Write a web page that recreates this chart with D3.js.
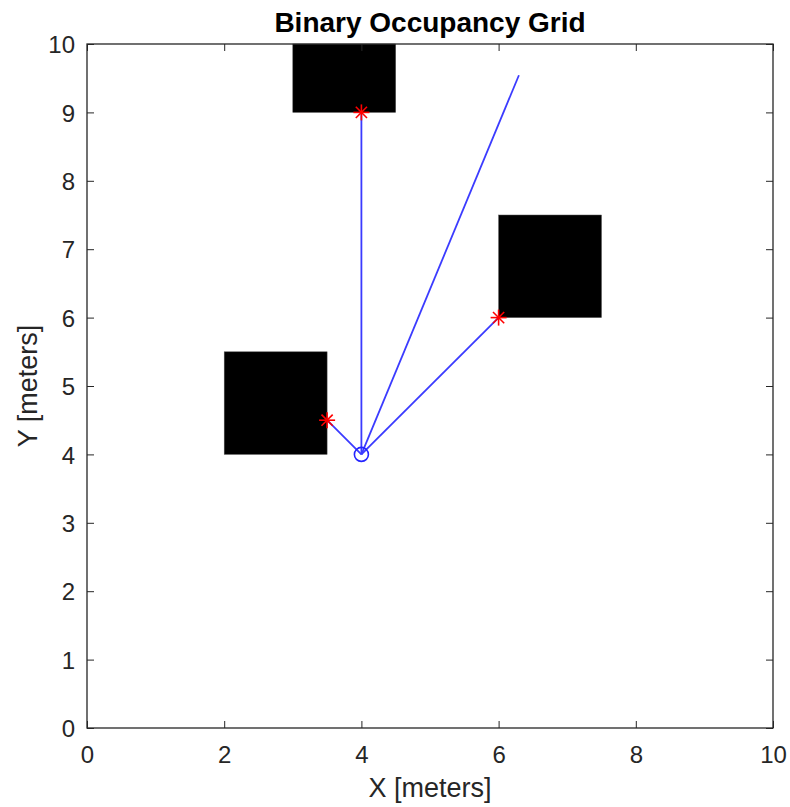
<!DOCTYPE html>
<html><head><meta charset="utf-8">
<script src="https://cdn.jsdelivr.net/npm/d3@7"></script>
<style>body{margin:0;background:#fff}text{font-family:"Liberation Sans",Arial,sans-serif}</style>
</head><body>
<script>
const obstacles = [
  {x0:3, x1:4.5, y0:9, y1:10},
  {x0:6, x1:7.5, y0:6, y1:7.5},
  {x0:2, x1:3.5, y0:4, y1:5.5}
];
const robot = [4, 4];
const rayEnds = [[3.5,4.5],[4,9],[6.296,9.543],[6,6]];
const hits = [[3.5,4.5],[4,9],[6,6]];
const xTicks = [0,2,4,6,8,10];
const yTicks = [0,1,2,3,4,5,6,7,8,9,10];

const W=790,H=807;
const svg=d3.select("body").append("svg").attr("width",W).attr("height",H);
const L=87,R=773,T=44,B=728;
const x=d3.scaleLinear().domain([0,10]).range([L,R]);
const y=d3.scaleLinear().domain([0,10]).range([B,T]);
const ax="#262626";
const FF="Liberation Sans, Arial, sans-serif";

// obstacles
svg.append("g").selectAll("rect").data(obstacles).join("rect")
  .attr("x",d=>x(d.x0)).attr("y",d=>y(d.y1))
  .attr("width",d=>x(d.x1)-x(d.x0)).attr("height",d=>y(d.y0)-y(d.y1))
  .attr("fill","#000").attr("stroke","#555").attr("stroke-width",0.5);

// rays
svg.append("g").selectAll("line").data(rayEnds).join("line")
  .attr("x1",x(robot[0])).attr("y1",y(robot[1]))
  .attr("x2",d=>x(d[0])).attr("y2",d=>y(d[1]))
  .attr("stroke","#3b3bff").attr("stroke-width",1.8);

// robot
svg.append("circle").attr("cx",x(robot[0])).attr("cy",y(robot[1])).attr("r",7)
  .attr("fill","none").attr("stroke","#2424ff").attr("stroke-width",1.6);

// hits (asterisks)
const s=8;
const ast=svg.append("g").selectAll("g").data(hits).join("g")
  .attr("transform",d=>`translate(${x(d[0])},${y(d[1])})`);
[[ -s,0,s,0],[0,-s,0,s],[-s*0.7,-s*0.7,s*0.7,s*0.7],[-s*0.7,s*0.7,s*0.7,-s*0.7]].forEach(p=>{
  ast.append("line").attr("x1",p[0]).attr("y1",p[1]).attr("x2",p[2]).attr("y2",p[3])
    .attr("stroke","#ff0000").attr("stroke-width",1.6);
});

// axes box
svg.append("rect").attr("x",L).attr("y",T).attr("width",R-L).attr("height",B-T)
  .attr("fill","none").attr("stroke",ax).attr("stroke-width",1.3);

const tl=7;
const gB=svg.append("g").attr("transform",`translate(0,${B})`).call(d3.axisBottom(x).tickValues(xTicks).tickSize(-tl).tickFormat(d3.format("d")));
const gT=svg.append("g").attr("transform",`translate(0,${T})`).call(d3.axisTop(x).tickValues(xTicks).tickSize(-tl).tickFormat(""));
const gL=svg.append("g").attr("transform",`translate(${L},0)`).call(d3.axisLeft(y).tickValues(yTicks).tickSize(-tl).tickFormat(d3.format("d")));
const gR=svg.append("g").attr("transform",`translate(${R},0)`).call(d3.axisRight(y).tickValues(yTicks).tickSize(-tl).tickFormat(""));
[gB,gT,gL,gR].forEach(g=>{
  g.select(".domain").remove();
  g.selectAll("line").attr("stroke",ax).attr("stroke-width",1);
  g.selectAll("text").attr("fill",ax).attr("font-size",24).attr("font-family",FF);
});
gB.selectAll("text").attr("dy",null).attr("y",35);
gL.selectAll("text").attr("x",-12).attr("dy","0.36em");

svg.append("text").attr("x",(L+R)/2).attr("y",32).attr("text-anchor","middle").attr("font-family",FF)
  .attr("font-size",28).attr("font-weight","bold").attr("fill","#000").text("Binary Occupancy Grid");
svg.append("text").attr("x",(L+R)/2).attr("y",797).attr("text-anchor","middle").attr("font-family",FF)
  .attr("font-size",27).attr("fill",ax).text("X [meters]");
svg.append("text").attr("transform",`translate(37,${(T+B)/2}) rotate(-90)`).attr("text-anchor","middle").attr("font-family",FF)
  .attr("font-size",27).attr("fill",ax).text("Y [meters]");
</script>
</body></html>
